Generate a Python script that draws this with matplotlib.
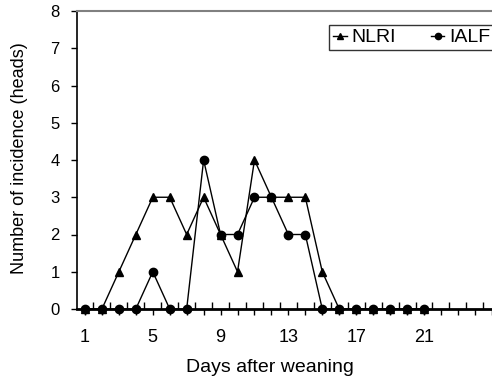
import numpy as np
import matplotlib
matplotlib.use("Agg")
import matplotlib.pyplot as plt
from matplotlib.ticker import FixedLocator, NullFormatter
from matplotlib.transforms import blended_transform_factory

plt.rcParams['font.family'] = ['Liberation Sans', 'DejaVu Sans']

days = list(range(1, 22))
nlri = [0, 0, 1, 2, 3, 3, 2, 3, 2, 1, 4, 3, 3, 3, 1, 0, 0, 0, 0, 0, 0]
ialf = [0, 0, 0, 0, 1, 0, 0, 4, 2, 2, 3, 3, 2, 2, 0, 0, 0, 0, 0, 0, 0]
day_labels = [1, 5, 9, 13, 17, 21]
n_cats = 25

W, H = 492, 383
fig = plt.figure(figsize=(W / 100, H / 100), dpi=100)
# plot area runs past the right edge, like the cropped original
ax = fig.add_axes([76.5 / W, 1 - 309 / H, (W - 76.5) / W, (309 - 11) / H])

ax.plot(days, nlri, color="black", lw=1, marker="^", ms=6, label="NLRI", clip_on=False, zorder=3)
ax.plot(days, ialf, color="black", lw=1, marker="o", ms=6, label="IALF", clip_on=False, zorder=3)

ax.set_xlim(0.5, 0.5 + (W - 76.5) / 16.95)
ax.set_ylim(0, 8)
ax.set_yticks(range(0, 9))

# major ticks on category boundaries, minor at category centres
ax.xaxis.set_major_locator(FixedLocator([b + 0.5 for b in range(1, n_cats)]))
ax.xaxis.set_major_formatter(NullFormatter())
ax.xaxis.set_minor_locator(FixedLocator(list(range(1, n_cats + 1))))
ax.tick_params(axis="x", which="major", direction="in", length=5, width=1, color="black")
ax.tick_params(axis="x", which="minor", direction="out", length=4, width=1, color="black")
ax.tick_params(axis="y", direction="out", length=4, width=1, labelsize=12, pad=8)

tr = blended_transform_factory(ax.transData, fig.transFigure)
for d in day_labels:
    ax.text(d, 1 - 338 / H, str(d), ha="center", va="center", fontsize=13, transform=tr)

ax.spines["left"].set_color("black")
ax.spines["left"].set_linewidth(1.2)
ax.spines["bottom"].set_color("black")
ax.spines["bottom"].set_linewidth(2)
ax.spines["top"].set_color("#808080")
ax.spines["top"].set_linewidth(1.5)
ax.spines["right"].set_visible(False)

fig.text(270 / W, 1 - 368 / H, "Days after weaning", ha="center", va="center", fontsize=14)
fig.text(20 / W, 1 - 158 / H, "Number of incidence (heads)", ha="center", va="center",
         rotation=90, fontsize=13)

leg = ax.legend(loc="upper left", bbox_to_anchor=(329 / W, 1 - 25 / H),
                bbox_transform=fig.transFigure, ncol=2, fontsize=14,
                frameon=True, fancybox=False, handlelength=0.7,
                handletextpad=0.25, columnspacing=1.8, borderpad=0.2,
                borderaxespad=0, markerscale=0.75)
leg.get_frame().set_edgecolor("black")
leg.get_frame().set_linewidth(1)

fig.savefig("out.png", dpi=100)
